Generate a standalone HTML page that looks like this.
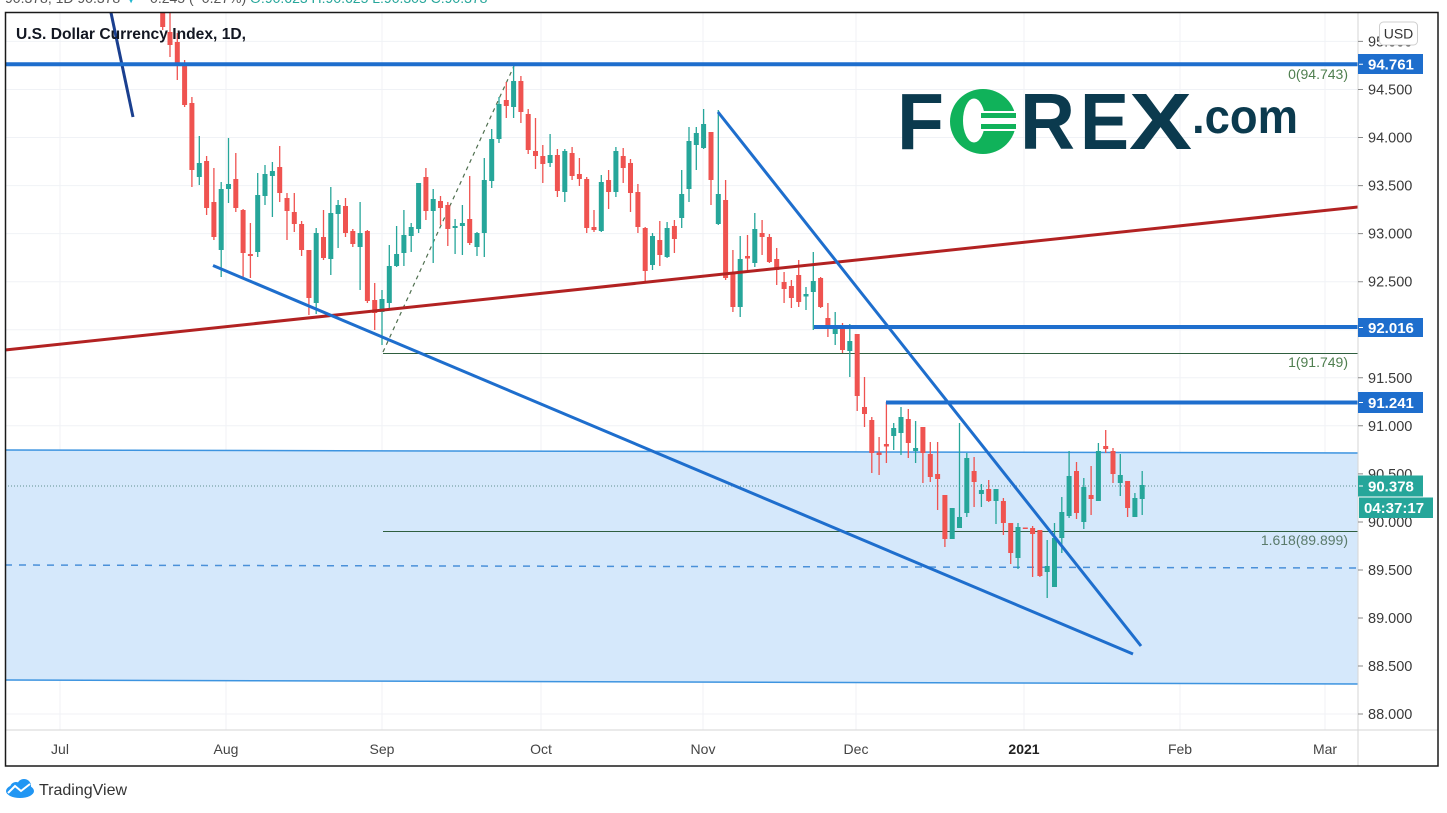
<!DOCTYPE html>
<html>
<head>
<meta charset="utf-8">
<style>
  html,body{margin:0;padding:0;background:#ffffff;}
  body{width:1447px;height:813px;overflow:hidden;position:relative;}
  svg{position:absolute;left:0;top:0;}
  text{font-family:"Liberation Sans",Arial,sans-serif;}
</style>
</head>
<body>
<svg width="1447" height="813" viewBox="0 0 1447 813" xmlns="http://www.w3.org/2000/svg">
  <defs>
    <clipPath id="plot"><rect x="5" y="12" width="1353" height="718"/></clipPath>
  </defs>

  <!-- header (cut off at top) -->
  <text x="5" y="3" font-size="14" fill="#555">90.378, 1D 90.378 <tspan fill="#22b8cf">▼</tspan> −0.245 (−0.27%) <tspan fill="#26a69a">O:90.623 H:90.625 L:90.305 C:90.378</tspan></text>

  <g clip-path="url(#plot)">
    <!-- grid -->
    <g stroke="#f0f2f6" stroke-width="1">
      <path d="M5 41.4H1358M5 89.5H1358M5 137.5H1358M5 185.6H1358M5 233.6H1358M5 281.7H1358M5 329.7H1358M5 377.8H1358M5 425.8H1358M5 473.9H1358M5 522H1358M5 570H1358M5 618H1358M5 666H1358M5 714H1358"/>
      <path d="M60 12V730M226 12V730M382 12V730M541 12V730M703 12V730M856 12V730M1024 12V730M1180 12V730M1325 12V730"/>
    </g>

    <!-- shaded zone -->
    <polygon points="5,450 1358,453 1358,684 5,680" fill="#d5e8fb"/>
    <line x1="5" y1="450" x2="1358" y2="453" stroke="#3d94e0" stroke-width="1.5"/>
    <line x1="5" y1="680" x2="1358" y2="684" stroke="#3d94e0" stroke-width="1.5"/>
    <line x1="5" y1="565" x2="1358" y2="568" stroke="#4a90d9" stroke-width="1.5" stroke-dasharray="7 7"/>

    <!-- last price dotted -->
    <line x1="5" y1="486" x2="1358" y2="486" stroke="#5f8f8f" stroke-width="1" stroke-dasharray="1 2"/>

    <!-- fib -->
    <line x1="383" y1="64.5" x2="1358" y2="64.5" stroke="#2f5f3f" stroke-width="1"/>
    <line x1="383" y1="353.5" x2="1358" y2="353.5" stroke="#2f5f3f" stroke-width="1"/>
    <line x1="383" y1="531.5" x2="1358" y2="531.5" stroke="#2f5f3f" stroke-width="1"/>
    <line x1="383" y1="352" x2="514" y2="66" stroke="#4f6f4f" stroke-width="1.2" stroke-dasharray="4 4"/>
    <text x="1348" y="79" font-size="14" fill="#4f7f4f" text-anchor="end">0(94.743)</text>
    <text x="1348" y="367" font-size="14" fill="#4f7f4f" text-anchor="end">1(91.749)</text>
    <text x="1348" y="545" font-size="14" fill="#5b7b6b" text-anchor="end">1.618(89.899)</text>

    <!-- green wicks -->
    <path fill="none" stroke="#26a69a" stroke-width="1.3" d="M199.3 136V185M221.2 182V277M228.5 138V203M257.7 173V257M265 165V205M272.4 162V217M316.2 228V314M330.8 187V275M338.1 200V248M360.1 202V290M382 290V345M389.3 245V310M396.6 226V267M403.9 210V266M411.2 223V252M418.6 183V233M433.2 189V263M455.1 219V254M462.4 205V255M477 232V256M484.3 158V257M491.7 129V188M499 97V143M513.6 63V118M550.1 134V167M564.8 149V202M601.3 175V232M615.9 147V197M652.5 233V270M667.1 222V258M681.7 170V228M689 127V202M696.3 127V170M703.6 109V149M718.3 110V225M740.2 236V317M754.8 213V267M806 287V310M813.3 252V330M835.2 312V345M849.8 324V377M893.7 423V450M901 407V455M915.6 421V463M952.2 508V539M959.5 423V528M966.8 453V517M981.4 484V507M996 489V524M1018 523V569M1047.2 540V598M1054.5 523V587M1061.8 497V553M1069.1 451V518M1083.8 478V529M1098.4 443V501M1120.3 454V496M1134.9 493V517M1142.2 471V515"/>
    <!-- green bodies -->
    <path fill="#26a69a" d="M196.8 163h5V177h-5zM218.7 189h5V250h-5zM226 184h5V189h-5zM255.2 195h5V252h-5zM262.5 174h5V196h-5zM269.9 171h5V176h-5zM313.7 233h5V303h-5zM328.3 213h5V259h-5zM335.6 205h5V214h-5zM357.6 233h5V247h-5zM379.5 299h5V312h-5zM386.8 266h5V303h-5zM394.1 254h5V266h-5zM401.4 235h5V253h-5zM408.7 227h5V236h-5zM416.1 183h5V229h-5zM430.7 199h5V211h-5zM452.6 226h5V228h-5zM459.9 223h5V226h-5zM474.5 233h5V247h-5zM481.8 180h5V233h-5zM489.2 139h5V181h-5zM496.5 104h5V139h-5zM511.1 81h5V107h-5zM547.6 155h5V163h-5zM562.3 151h5V192h-5zM598.8 182h5V231h-5zM613.4 151h5V192h-5zM650 236h5V265h-5zM664.6 228h5V257h-5zM679.2 194h5V218h-5zM686.5 141h5V189h-5zM693.8 133h5V145h-5zM701.1 124h5V148h-5zM715.8 194h5V224h-5zM737.7 259h5V307h-5zM752.3 229h5V263h-5zM803.5 294h5V296.5h-5zM810.8 281h5V292h-5zM832.7 329h5V334h-5zM847.3 341h5V351h-5zM891.2 428h5V436h-5zM898.5 417h5V433h-5zM913.1 448h5V451h-5zM949.7 508h5V539h-5zM957 517h5V528h-5zM964.3 458h5V513h-5zM978.9 490h5V494h-5zM993.5 489h5V501h-5zM1015.5 527h5V558h-5zM1044.7 566h5V572h-5zM1052 538h5V587h-5zM1059.3 512h5V538h-5zM1066.6 476h5V516h-5zM1081.3 487h5V522h-5zM1095.9 451h5V501h-5zM1117.8 475h5V483h-5zM1132.4 498h5V517h-5zM1139.7 485h5V499h-5z"/>

    <!-- red wicks -->
    <path fill="none" stroke="#ef5350" stroke-width="1.3" d="M162.7 0V30M170 10V57M177.3 33V80M184.6 60V107M191.9 97V187M206.6 156V215M213.9 168V240M235.8 153V212M243.1 209V277M250.4 223V278M279.7 146V202M287 193V240M294.3 193V232M301.6 221V256M308.9 250V315M323.5 210V260M345.5 198V237M352.8 229V247M367.4 230V303M374.7 283V330M425.9 168V220M440.5 196V225M447.8 202V246M469.7 176V245M506.3 82V118M520.9 76V123M528.2 109V154M535.5 118V169M542.8 145V183M557.4 149V197M572.1 147V180M579.4 158V186M586.7 177V233M594 210V232M608.6 170V209M623.2 148V183M630.5 159V212M637.9 184V233M645.2 227V283M659.8 221V266M674.4 220V253M711 132V205M725.6 180V280M732.9 250V312M747.5 235V270M762.1 220V255M769.4 234V263M776.7 248V285M784.1 272V303M791.4 280V308M798.7 260V307M820.6 277V308M827.9 303V337M842.5 323V353M857.2 334V411M864.5 377V427M871.8 417V473M879.1 437V475M886.4 402V463M908.3 409V458M922.9 427V483M930.3 442V482M937.6 442V510M944.9 495V547M974.1 457V507M988.7 480V502M1003.4 498V535M1010.7 523V564M1032.6 526V577M1039.9 530V577M1076.5 462V519M1091.1 466V515M1105.7 430V453M1113 448V483M1127.6 481V517"/>
    <!-- red bodies -->
    <path fill="#ef5350" d="M160.2 8h5V27h-5zM167.5 32h5V45h-5zM174.8 42h5V65h-5zM182.1 63h5V105h-5zM189.4 103h5V170h-5zM204.1 161h5V208h-5zM211.4 202h5V237h-5zM233.3 179h5V208h-5zM240.6 210h5V253h-5zM247.9 254h5V256h-5zM277.2 167h5V193h-5zM284.5 198h5V211h-5zM291.8 212h5V224h-5zM299.1 224h5V250h-5zM306.4 250h5V298h-5zM321 237h5V258h-5zM343 206h5V233h-5zM350.3 231h5V244h-5zM364.9 231h5V301h-5zM372.2 300h5V313h-5zM423.4 177h5V211h-5zM438 201h5V208h-5zM445.3 205h5V229h-5zM467.2 219h5V243h-5zM503.8 100h5V106h-5zM518.4 81h5V112h-5zM525.7 114h5V150h-5zM533 151h5V156h-5zM540.3 156h5V164h-5zM554.9 155h5V191h-5zM569.6 153h5V176h-5zM576.9 174h5V179h-5zM584.2 179h5V228h-5zM591.5 227h5V230h-5zM606.1 180h5V192h-5zM620.7 156h5V168h-5zM628 163h5V193h-5zM635.4 192h5V227h-5zM642.7 228h5V271h-5zM657.3 240h5V255h-5zM671.9 226h5V239h-5zM708.5 132h5V180h-5zM723.1 200h5V278h-5zM730.4 273h5V307h-5zM745 256h5V258.5h-5zM759.6 233h5V237h-5zM766.9 237h5V262h-5zM774.2 259h5V270h-5zM781.6 282h5V289h-5zM788.9 286h5V298h-5zM796.2 275h5V302h-5zM818.1 278h5V307h-5zM825.4 318h5V329h-5zM840 327h5V350h-5zM854.7 334h5V396h-5zM862 407h5V414h-5zM869.3 420h5V453h-5zM876.6 452.5h5V455h-5zM883.9 444h5V446.5h-5zM905.8 419h5V443h-5zM920.4 427h5V453h-5zM927.8 454h5V477h-5zM935.1 474h5V479h-5zM942.4 495h5V539h-5zM971.6 471h5V482h-5zM986.2 489h5V501h-5zM1000.9 501h5V523h-5zM1008.2 523h5V553h-5zM1022.8 527.5h5V529h-5zM1030.1 528h5V534h-5zM1037.4 530h5V576h-5zM1074 471h5V513h-5zM1088.6 495h5V499h-5zM1103.2 446h5V449h-5zM1110.5 451h5V474h-5zM1125.1 481h5V508h-5z"/>

    <!-- trend lines -->
    <line x1="5" y1="350" x2="1358" y2="207" stroke="#b22222" stroke-width="3"/>
    <line x1="110" y1="8" x2="133" y2="117" stroke="#1a3f8f" stroke-width="3"/>
    <line x1="213" y1="265.5" x2="1133" y2="654" stroke="#1e6ecd" stroke-width="3"/>
    <line x1="718" y1="112" x2="1141" y2="646" stroke="#1e6ecd" stroke-width="3"/>
    <line x1="5" y1="64.3" x2="1358" y2="64.3" stroke="#1e6ecd" stroke-width="4"/>
    <line x1="814" y1="327" x2="1358" y2="327" stroke="#1e6ecd" stroke-width="4"/>
    <line x1="886" y1="402.5" x2="1358" y2="402.5" stroke="#1e6ecd" stroke-width="4"/>
  </g>

  <!-- title -->
  <text x="16" y="39" font-size="15.5" font-weight="bold" fill="#131722" textLength="230" lengthAdjust="spacingAndGlyphs">U.S. Dollar Currency Index, 1D,</text>

  <!-- FOREX.com logo -->
  <g font-weight="bold" font-size="80">
    <text x="897" y="149" fill="#0b3a4e" textLength="47" lengthAdjust="spacingAndGlyphs">F</text>
    <text x="1020" y="149" fill="#0b3a4e" textLength="55" lengthAdjust="spacingAndGlyphs">R</text>
    <text x="1080" y="149" fill="#0b3a4e" textLength="49" lengthAdjust="spacingAndGlyphs">E</text>
    <text x="1129" y="149" fill="#0b3a4e" textLength="63" lengthAdjust="spacingAndGlyphs">X</text>
  </g>
  <!-- green O coin -->
  <ellipse cx="983" cy="121.5" rx="33" ry="32.5" fill="#10b25a"/>
  <ellipse cx="974" cy="120.5" rx="11" ry="22" fill="#ffffff"/>
  <rect x="979" y="111" width="37" height="20" fill="#ffffff"/>
  <rect x="981" y="113" width="35" height="5" fill="#10b25a"/>
  <rect x="981" y="124" width="35" height="5" fill="#10b25a"/>
  <text x="1192" y="133" font-size="48" font-weight="bold" fill="#0b3a4e" textLength="106" lengthAdjust="spacingAndGlyphs">.com</text>

  <!-- axes separators -->
  <line x1="1358" y1="12" x2="1358" y2="766" stroke="#d6d6d6" stroke-width="1"/>
  <line x1="5" y1="730" x2="1438" y2="730" stroke="#d6d6d6" stroke-width="1"/>

  <!-- price ticks -->
  <path stroke="#888" stroke-width="1" d="M1358 41.4h5M1358 89.5h5M1358 137.5h5M1358 185.6h5M1358 233.6h5M1358 281.7h5M1358 329.7h5M1358 377.8h5M1358 425.8h5M1358 473.9h5M1358 522h5M1358 570h5M1358 618h5M1358 666h5M1358 714h5"/>
  <g font-size="14.5" fill="#3a3a3a">
    <text x="1368" y="46.4">95.000</text>
    <text x="1368" y="94.5">94.500</text>
    <text x="1368" y="142.5">94.000</text>
    <text x="1368" y="190.6">93.500</text>
    <text x="1368" y="238.6">93.000</text>
    <text x="1368" y="286.7">92.500</text>
    <text x="1368" y="334.7">92.000</text>
    <text x="1368" y="382.8">91.500</text>
    <text x="1368" y="430.8">91.000</text>
    <text x="1368" y="478.9">90.500</text>
    <text x="1368" y="527">90.000</text>
    <text x="1368" y="575">89.500</text>
    <text x="1368" y="623">89.000</text>
    <text x="1368" y="671">88.500</text>
    <text x="1368" y="719">88.000</text>
  </g>

  <!-- USD box -->
  <rect x="1379.5" y="22" width="38" height="23" rx="4" fill="#ffffff" stroke="#cfcfcf" stroke-width="1"/>
  <text x="1398.5" y="38.5" font-size="14" fill="#333" text-anchor="middle">USD</text>

  <!-- price labels -->
  <g font-size="15" font-weight="bold" fill="#ffffff">
    <rect x="1358" y="54" width="65" height="20" fill="#1e6ecd"/>
    <text x="1368" y="69.5">94.761</text>
    <rect x="1358" y="318" width="65" height="19" fill="#1e6ecd"/>
    <text x="1368" y="333">92.016</text>
    <rect x="1358" y="392" width="65" height="21" fill="#1e6ecd"/>
    <text x="1368" y="408">91.241</text>
    <rect x="1358" y="475.5" width="65" height="21" fill="#26a69a"/>
    <text x="1368" y="491.5">90.378</text>
    <rect x="1359" y="497.5" width="74" height="20.5" fill="#26a69a"/>
    <text x="1364" y="513">04:37:17</text>
  </g>
  <path stroke="#ffffff" stroke-width="1" d="M1359 64.3h4M1359 327.5h4M1359 402.5h4M1359 486h4"/>

  <!-- time labels -->
  <g font-size="14" fill="#444" text-anchor="middle">
    <text x="60" y="754">Jul</text>
    <text x="226" y="754">Aug</text>
    <text x="382" y="754">Sep</text>
    <text x="541" y="754">Oct</text>
    <text x="703" y="754">Nov</text>
    <text x="856" y="754">Dec</text>
    <text x="1024" y="754" font-weight="bold" fill="#222">2021</text>
    <text x="1180" y="754">Feb</text>
    <text x="1325" y="754">Mar</text>
  </g>

  <!-- frame -->
  <rect x="5.5" y="12.5" width="1432.5" height="753.5" fill="none" stroke="#1a1a1a" stroke-width="1.5"/>

  <!-- TradingView logo -->
  <g fill="#2196f3">
    <ellipse cx="20" cy="791" rx="14" ry="7"/>
    <circle cx="16" cy="788" r="6"/>
    <circle cx="24" cy="786" r="7"/>
  </g>
  <path d="M8 793 L15 786 L21 791 L30 784" fill="none" stroke="#ffffff" stroke-width="2"/>
  <text x="39" y="795" font-size="16" fill="#333">TradingView</text>
</svg>
</body>
</html>
